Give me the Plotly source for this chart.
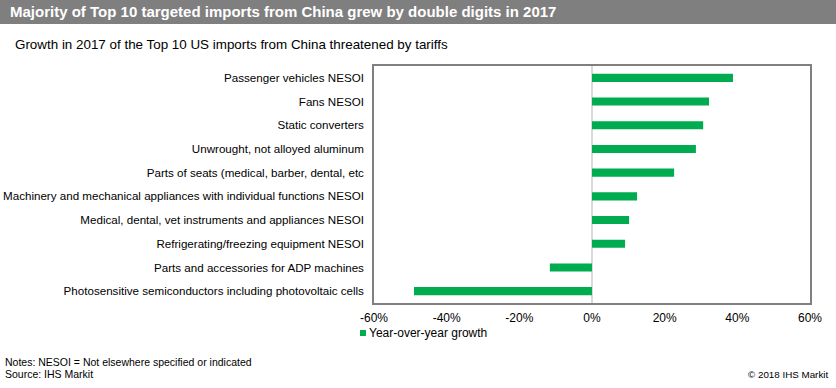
import plotly.graph_objects as go

categories = [
    "Passenger vehicles NESOI",
    "Fans NESOI",
    "Static converters",
    "Unwrought, not alloyed aluminum",
    "Parts of seats (medical, barber, dental, etc",
    "Machinery and mechanical appliances with individual functions NESOI",
    "Medical, dental, vet instruments and appliances NESOI",
    "Refrigerating/freezing equipment NESOI",
    "Parts and accessories for ADP machines",
    "Photosensitive semiconductors including photovoltaic cells",
]
growth = [38.8, 32.2, 30.6, 28.6, 22.6, 12.4, 10.2, 9.1, -11.6, -49.0]
tick_vals = [-60, -40, -20, 0, 20, 40, 60]
tick_text = ["-60%", "-40%", "-20%", "0%", "20%", "40%", "60%"]
series_name = "Year-over-year growth"

W, H = 836, 388
L, R, T, B = 374, 810, 66, 303
PW, PH = R - L, B - T


def px(x):
    return (x - L) / PW


def py(y):
    return (B - y) / PH


GREEN = "#00ac4f"
ARIAL = "Liberation Sans, Arial, sans-serif"

fig = go.Figure()
fig.add_trace(go.Bar(
    x=growth, y=categories, orientation="h",
    marker=dict(color=GREEN, line=dict(width=0)),
    name=series_name, showlegend=False,
))

fig.update_layout(
    width=W, height=H,
    margin=dict(l=L, r=W - R, t=T, b=H - B, autoexpand=False),
    paper_bgcolor="white", plot_bgcolor="white",
    bargap=0.66,
    font=dict(family=ARIAL, size=12, color="#000000"),
    xaxis=dict(
        range=[-60, 60], tickvals=tick_vals, ticktext=tick_text,
        showgrid=False, zeroline=True, zerolinecolor="#d9d9d9", zerolinewidth=1.5,
        showline=True, linecolor="#808080", linewidth=1.5, mirror=True,
        ticks="", ticklabelstandoff=3, tickfont=dict(family=ARIAL, size=12, color="#000"),
        automargin=False, fixedrange=True,
    ),
    yaxis=dict(
        categoryorder="array", categoryarray=categories[::-1],
        showgrid=False, showline=True, linecolor="#808080", linewidth=1.5, mirror=True,
        ticks="", ticklabelstandoff=6,
        tickfont=dict(family=ARIAL, size=11.6, color="#000"),
        automargin=False, fixedrange=True,
    ),
    shapes=[
        dict(type="rect", xref="paper", yref="paper",
             x0=px(0), x1=px(W), y0=py(24), y1=py(0),
             fillcolor="#7f7f7f", line=dict(width=0), layer="below"),
        dict(type="rect", xref="paper", yref="paper",
             x0=px(360), x1=px(366), y0=py(336), y1=py(330),
             fillcolor=GREEN, line=dict(width=0)),
    ],
    annotations=[
        dict(text="<b>Majority of Top 10 targeted imports from China grew by double digits in 2017</b>",
             xref="paper", yref="paper", x=px(8), y=py(12), xanchor="left", yanchor="middle",
             showarrow=False, font=dict(family=ARIAL, size=15, color="white")),
        dict(text="Growth in 2017 of the Top 10 US imports from China threatened by tariffs",
             xref="paper", yref="paper", x=px(13), y=py(45), xanchor="left", yanchor="middle",
             showarrow=False, font=dict(family=ARIAL, size=13.4, color="black")),
        dict(text=series_name,
             xref="paper", yref="paper", x=px(367), y=py(333), xanchor="left", yanchor="middle",
             showarrow=False, font=dict(family=ARIAL, size=12, color="black")),
        dict(text="Notes: NESOI = Not elsewhere specified or indicated",
             xref="paper", yref="paper", x=px(3), y=py(362), xanchor="left", yanchor="middle",
             showarrow=False, font=dict(family=ARIAL, size=10.5, color="black")),
        dict(text="Source: IHS Markit",
             xref="paper", yref="paper", x=px(3), y=py(374), xanchor="left", yanchor="middle",
             showarrow=False, font=dict(family=ARIAL, size=10.5, color="black")),
        dict(text="© 2018 IHS Markit",
             xref="paper", yref="paper", x=px(830), y=py(374), xanchor="right", yanchor="middle",
             showarrow=False, font=dict(family=ARIAL, size=9.8, color="black")),
    ],
)

fig.write_html(
    "out.html",
    config={"displayModeBar": False, "staticPlot": False},
    post_script="document.body.style.margin='0';document.body.style.overflow='hidden';",
)
